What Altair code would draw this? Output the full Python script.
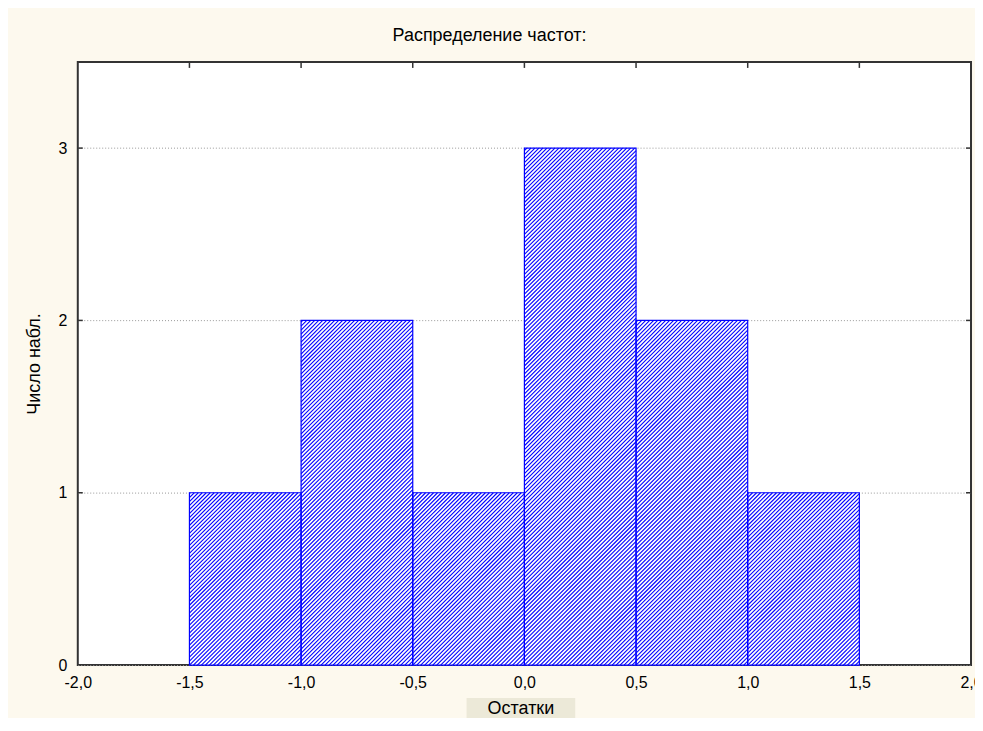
import altair as alt
import pandas as pd
import numpy as np

# ---- data ----
bin_start = [-1.5, -1.0, -0.5, 0.0, 0.5, 1.0]
bin_end = [-1.0, -0.5, 0.0, 0.5, 1.0, 1.5]
counts = [1, 2, 1, 3, 2, 1]
x_ticks = [-2.0, -1.5, -1.0, -0.5, 0.0, 0.5, 1.0, 1.5, 2.0]
y_ticks = [0, 1, 2, 3]
x_domain = [-2.0, 2.0]
y_domain = [0, 3.5]

W, H = 896, 605
FONT = "Liberation Sans, Arial, sans-serif"
BLUE = "#0000FF"
BG = "#FDF9EE"

bars = pd.DataFrame({"start": bin_start, "end": bin_end, "count": counts})

# ---- hatch pattern derived from the bars (45deg lines, 4px apart) ----
sx = W / (x_domain[1] - x_domain[0])
sy = H / (y_domain[1] - y_domain[0])
step = 4.0
rows = []
for x0, x1, h in zip(bin_start, bin_end, counts):
    u0, u1, hv = (x0 - x_domain[0]) * sx, (x1 - x_domain[0]) * sx, h * sy
    cmin = np.ceil((-u1) / step) * step
    for c in np.arange(cmin, hv - u0, step):
        ua = max(u0, -c)
        ub = min(u1, hv - c)
        if ub - ua < 0.5:
            continue
        rows.append({
            "hx": ua / sx + x_domain[0], "hx2": ub / sx + x_domain[0],
            "hy": (ua + c) / sy, "hy2": (ub + c) / sy,
        })
hatch = pd.DataFrame(rows)

xscale = alt.Scale(domain=x_domain, nice=False, zero=False)
yscale = alt.Scale(domain=y_domain, nice=False)
label_expr = "replace(replace(format(datum.value, '.1f'), '.', ','), '\u2212', '-')"

xaxis = alt.Axis(
    values=x_ticks, labelExpr=label_expr, labelFlush=False, ticks=False,
    domain=False, grid=False, labelPadding=10, labelFontSize=16,
    labelFont=FONT, labelColor="#000", zindex=2,
    title="Остатки", titleX=444, titleY=44, titleBaseline="middle",
    titleAlign="center", titleFont=FONT, titleFontSize=18,
    titleFontWeight="normal", titleColor="#000",
)
yaxis = alt.Axis(
    values=y_ticks, format="d", ticks=False, domain=False, grid=True,
    gridColor="#999", gridDash=[1, 2], gridWidth=1,
    labelPadding=11, labelFontSize=16, labelFont=FONT, labelColor="#000",
    title="Число набл.", titleX=-43, titleY=H / 2, titleAngle=-90,
    titleBaseline="middle", titleAlign="center", titleFont=FONT,
    titleFontSize=18, titleFontWeight="normal", titleColor="#000",
)

title_box = alt.Chart(pd.DataFrame({"a": [0]})).mark_rect(
    fill="#ECE9D8", clip=False
).encode(
    x=alt.value(390), x2=alt.value(499), y=alt.value(638), y2=alt.value(660)
)

bar_fill = alt.Chart(bars).mark_rect(fill="white", stroke=None).encode(
    x=alt.X("start:Q", scale=xscale, axis=xaxis, title="Остатки"),
    x2="end:Q",
    y=alt.Y("count:Q", scale=yscale, axis=yaxis, title="Число набл."),
    y2=alt.datum(0),
)

hatch_layer = alt.Chart(hatch).mark_rule(color=BLUE, strokeWidth=1.1).encode(
    x=alt.X("hx:Q", scale=xscale, title="Остатки"),
    x2="hx2:Q",
    y=alt.Y("hy:Q", scale=yscale, title="Число набл."),
    y2="hy2:Q",
)

bar_outline = alt.Chart(bars).mark_rect(
    fill=None, stroke=BLUE, strokeWidth=1.2
).encode(
    x=alt.X("start:Q", scale=xscale, title="Остатки"),
    x2="end:Q",
    y=alt.Y("count:Q", scale=yscale, title="Число набл."),
    y2=alt.datum(0),
)

xt = pd.DataFrame({"t": x_ticks[1:-1]})
yt = pd.DataFrame({"t": y_ticks[1:]})
top_ticks = alt.Chart(xt).mark_rule(color="#333", strokeWidth=1.5).encode(
    x=alt.X("t:Q", scale=xscale, title="Остатки"), y=alt.value(0), y2=alt.value(6)
)
left_ticks = alt.Chart(yt).mark_rule(color="#333", strokeWidth=1.5).encode(
    y=alt.Y("t:Q", scale=yscale, title="Число набл."), x=alt.value(0), x2=alt.value(5)
)
right_ticks = alt.Chart(yt).mark_rule(color="#333", strokeWidth=1.5).encode(
    y=alt.Y("t:Q", scale=yscale, title="Число набл."), x=alt.value(W), x2=alt.value(W - 5)
)

chart = alt.layer(
    title_box, bar_fill, hatch_layer, bar_outline, top_ticks, left_ticks, right_ticks
).properties(
    width=W, height=H,
    title=alt.TitleParams(
        "Распределение частот:", font=FONT, fontSize=18, fontWeight="normal",
        color="#000", anchor="middle", offset=16, dx=-35,
    ),
    autosize=alt.AutoSizeParams(type="none"),
    padding={"left": 70, "top": 53, "right": 4, "bottom": 52},
    background=BG,
).configure_view(
    stroke="#333", strokeWidth=2, fill="white"
)

chart.save("out.html", embed_options={"renderer": "svg", "actions": False})
